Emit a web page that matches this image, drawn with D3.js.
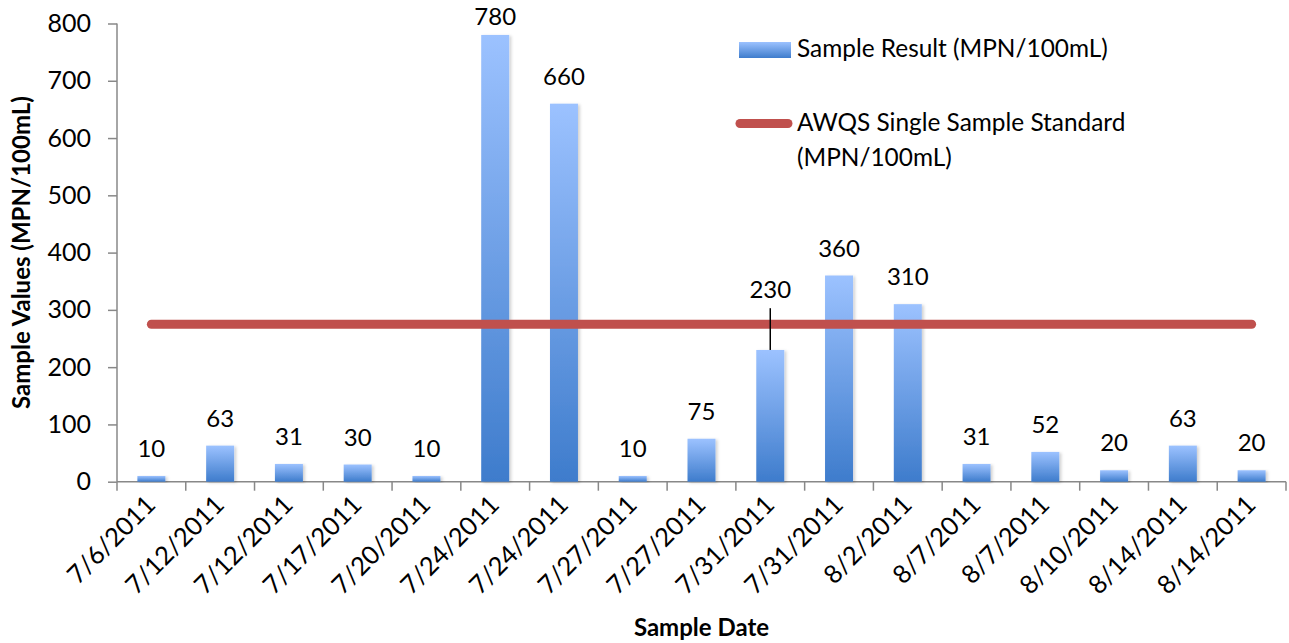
<!DOCTYPE html>
<html>
<head>
<meta charset="utf-8">
<script src="https://cdn.jsdelivr.net/npm/d3@7"></script>
<style>
  html, body { margin: 0; padding: 0; background: #fff; }
  svg { display: block; font-family: Carlito, Lato, "Open Sans", sans-serif; }
</style>
</head>
<body>
<svg id="chart" width="1289" height="643"></svg>
<script>
// Sample dates (some dates sampled twice)
const dates = ["7/6/2011", "7/12/2011", "7/12/2011", "7/17/2011", "7/20/2011", "7/24/2011",
  "7/24/2011", "7/27/2011", "7/27/2011", "7/31/2011", "7/31/2011", "8/2/2011", "8/7/2011",
  "8/7/2011", "8/10/2011", "8/14/2011", "8/14/2011"];
// Sample result, MPN/100mL
const results = [10, 63, 31, 30, 10, 780, 660, 10, 75, 230, 360, 310, 31, 52, 20, 63, 20];
// AWQS single sample standard, MPN/100mL
const standard = 275;
const yTicks = [0, 100, 200, 300, 400, 500, 600, 700, 800];

const FONT = "Lato, sans-serif";
const svg = d3.select("#chart");
const margin = { left: 117, right: 3, top: 23.5, bottom: 161.3 };
const W = 1289, H = 643;

const x = d3.scaleBand()
  .domain(d3.range(dates.length))
  .range([margin.left, W - margin.right])
  .paddingInner(0.593).paddingOuter(0.2965);
const step = x.step();
const y = d3.scaleLinear().domain([0, 800]).range([H - margin.bottom, margin.top]);

const defs = svg.append("defs");
const grad = defs.append("linearGradient").attr("id", "barGrad")
  .attr("x1", 0).attr("y1", 0).attr("x2", 0).attr("y2", 1);
grad.append("stop").attr("offset", "0%").attr("stop-color", "#9cc2ff");
grad.append("stop").attr("offset", "100%").attr("stop-color", "#3e7ccc");
const shadow = defs.append("filter").attr("id", "barShadow")
  .attr("x", "-20%").attr("y", "-5%").attr("width", "150%").attr("height", "115%");
shadow.append("feDropShadow").attr("dx", 2).attr("dy", 1).attr("stdDeviation", 1.5)
  .attr("flood-color", "#000").attr("flood-opacity", 0.18);

// Y axis
const yAxis = svg.append("g")
  .attr("transform", `translate(${margin.left},0)`)
  .call(d3.axisLeft(y).tickValues(yTicks).tickSize(9).tickPadding(17));
yAxis.select(".domain").attr("stroke", "#888").attr("stroke-width", 1.5).attr("d",
  `M-0,${y(0)}V${y(800)}`);
yAxis.selectAll(".tick line").attr("stroke", "#888").attr("stroke-width", 1.5);
yAxis.selectAll(".tick text").attr("font-size", 25).attr("fill", "#000")
  .attr("font-family", FONT);

// X axis: ticks sit between categories
const xAxisG = svg.append("g").attr("transform", `translate(0,${y(0)})`);
xAxisG.append("line").attr("x1", margin.left).attr("x2", W - margin.right)
  .attr("stroke", "#888").attr("stroke-width", 1.5);
xAxisG.selectAll("line.tick").data(d3.range(dates.length + 1)).join("line")
  .attr("class", "tick")
  .attr("x1", i => margin.left + i * step).attr("x2", i => margin.left + i * step)
  .attr("y1", 0).attr("y2", 9).attr("stroke", "#888").attr("stroke-width", 1.5);
xAxisG.selectAll("text").data(dates).join("text")
  .attr("transform", (d, i) => `translate(${x(i) + x.bandwidth() / 2 - 7},${12}) rotate(-45)`)
  .attr("text-anchor", "end").attr("dy", "0.7em")
  .attr("font-size", 25.5).attr("font-family", FONT).attr("fill", "#000")
  .text(d => d);

// Bars
svg.append("g").selectAll("rect").data(results).join("rect")
  .attr("x", (d, i) => x(i)).attr("width", x.bandwidth())
  .attr("y", d => y(d)).attr("height", d => y(0) - y(d))
  .attr("fill", "url(#barGrad)").attr("filter", "url(#barShadow)");

// Standard line across the category centres
const xc = i => x(i) + x.bandwidth() / 2;
svg.append("line")
  .attr("x1", xc(0)).attr("x2", xc(dates.length - 1))
  .attr("y1", y(standard)).attr("y2", y(standard))
  .attr("stroke", "#c0504d").attr("stroke-width", 9).attr("stroke-linecap", "round");

// Value labels; a label that would sit on the standard line is lifted above it with a leader
const labels = svg.append("g").attr("font-family", FONT).attr("font-size", 24)
  .attr("text-anchor", "middle").attr("fill", "#000");
results.forEach((v, i) => {
  let base = Math.max(y(v) - 19, 25);
  const lineY = y(standard);
  if (base > lineY - 8 && base - 17 < lineY + 8) {
    const lifted = lineY - 26;
    labels.append("line").attr("x1", xc(i)).attr("x2", xc(i))
      .attr("y1", lifted + 10).attr("y2", y(v))
      .attr("stroke", "#000").attr("stroke-width", 1.5);
    base = lifted;
  }
  labels.append("text").attr("x", xc(i)).attr("y", base).text(v);
});

// Legend
const lg = svg.append("g").attr("font-family", FONT).attr("font-size", 24.4).attr("fill", "#000");
lg.append("rect").attr("x", 739).attr("y", 42).attr("width", 52).attr("height", 16)
  .attr("fill", "url(#barGrad)");
lg.append("text").attr("x", 797).attr("y", 57).text("Sample Result (MPN/100mL)");
lg.append("line").attr("x1", 740).attr("x2", 788).attr("y1", 123.5).attr("y2", 123.5)
  .attr("stroke", "#c0504d").attr("stroke-width", 9).attr("stroke-linecap", "round");
lg.append("text").attr("x", 797).attr("y", 131).text("AWQS Single Sample Standard");
lg.append("text").attr("x", 797).attr("y", 166).text("(MPN/100mL)");

// Axis titles
svg.append("text").attr("x", (margin.left + W - margin.right) / 2).attr("y", 636)
  .attr("text-anchor", "middle").attr("font-family", FONT)
  .attr("font-weight", "bold").attr("font-size", 24).text("Sample Date");
svg.append("text")
  .attr("transform", `translate(30,${(y(0) + y(800)) / 2}) rotate(-90)`)
  .attr("text-anchor", "middle").attr("font-family", FONT)
  .attr("font-weight", "bold").attr("font-size", 24).text("Sample Values (MPN/100mL)");
</script>
</body>
</html>
